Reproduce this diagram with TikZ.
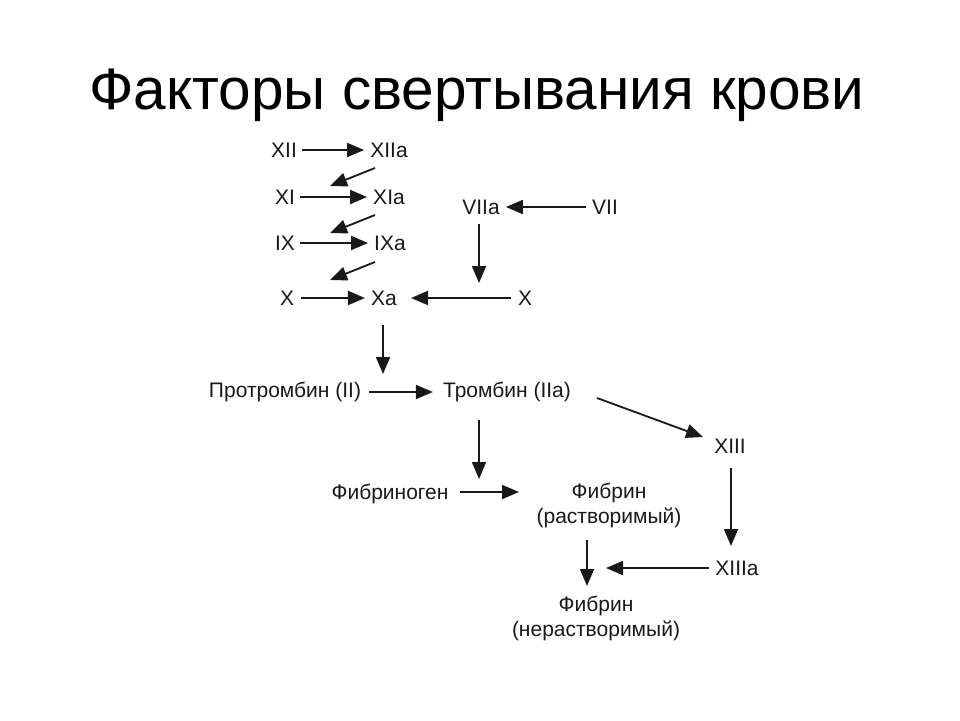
\documentclass[tikz,border=0pt]{standalone}
\usepackage{fontspec}
\setmainfont{Liberation Sans}
\usetikzlibrary{arrows.meta}
\begin{document}
\begin{tikzpicture}[x=1pt,y=-1pt,
  lbl/.style={inner sep=0pt, font=\fontsize{21}{25}\selectfont, text=black!90, align=center},
  arr/.style={line width=1.8pt, draw=black!90, -{Triangle[length=17pt,width=14pt]}}]
\useasboundingbox (0,0) rectangle (960,720);
\fill[white] (0,0) rectangle (960,720);
\node[inner sep=0pt, font=\fontsize{58.5}{64}\selectfont] (title) at (477,95) {Факторы свертывания крови};

\node[lbl] (XII) at (284,150) {XII};
\node[lbl] (XIIa) at (389,150) {XIIa};
\node[lbl] (XI) at (285,197) {XI};
\node[lbl] (XIa) at (389,197) {XIa};
\node[lbl] (IX) at (285,243) {IX};
\node[lbl] (IXa) at (390,243) {IXa};
\node[lbl] (X1) at (287,298) {X};
\node[lbl] (Xa) at (384,298) {Xa};
\node[lbl] (VIIa) at (481,207) {VIIa};
\node[lbl] (VII) at (605,207) {VII};
\node[lbl] (X2) at (525,298) {X};
\node[lbl] (pro) at (285,392) {Протромбин (II)};
\node[lbl] (thr) at (507,392) {Тромбин (IIa)};
\node[lbl] (XIII) at (730,446) {XIII};
\node[lbl] (XIIIa) at (737,568) {XIIIa};
\node[lbl] (fbg) at (390,494) {Фибриноген};
\node[lbl] (fbs) at (609,505) {Фибрин\\(растворимый)};
\node[lbl] (fbi) at (596,618) {Фибрин\\(нерастворимый)};

\coordinate (d1s) at (375,168); \coordinate (d1e) at (330,186);
\coordinate (d2s) at (375,215); \coordinate (d2e) at (330,233);
\coordinate (d3s) at (375,262); \coordinate (d3e) at (330,280);
\coordinate (v7s) at (479,224); \coordinate (v7e) at (479,283);
\coordinate (xas) at (383,325); \coordinate (xae) at (383,374);
\coordinate (ths) at (479,420); \coordinate (the) at (479,479);
\coordinate (ts) at (597,398); \coordinate (te) at (703,437);
\coordinate (x13s) at (731,468); \coordinate (x13e) at (731,546);
\coordinate (xiiie) at (606,568);
\coordinate (fgs) at (460,492); \coordinate (fge) at (519,492);
\coordinate (fbss) at (587,540); \coordinate (fbse) at (587,586);

\draw[arr] (XII.east) ++(5,0) -- ([xshift=-6pt]XIIa.west);
\draw[arr] (XI.east) ++(5,0) -- ([xshift=-6pt]XIa.west);
\draw[arr] (IX.east) ++(5,0) -- ([xshift=-6pt]IXa.west);
\draw[arr] (X1.east) ++(7,0) -- ([xshift=-6pt]Xa.west);
\draw[arr] (d1s) -- (d1e);
\draw[arr] (d2s) -- (d2e);
\draw[arr] (d3s) -- (d3e);
\draw[arr] ([xshift=-6pt]VII.west) -- ([xshift=6pt]VIIa.east);
\draw[arr] (v7s) -- (v7e);
\draw[arr] ([xshift=-7pt]X2.west) -- ([xshift=14pt]Xa.east);
\draw[arr] (xas) -- (xae);
\draw[arr] ([xshift=8pt]pro.east) -- ([xshift=-10pt]thr.west);
\draw[arr] (ths) -- (the);
\draw[arr] (ts) -- (te);
\draw[arr] (x13s) -- (x13e);
\draw[arr] ([xshift=-6pt]XIIIa.west) -- (xiiie);
\draw[arr] (fgs) -- (fge);
\draw[arr] (fbss) -- (fbse);
\end{tikzpicture}
\end{document}
